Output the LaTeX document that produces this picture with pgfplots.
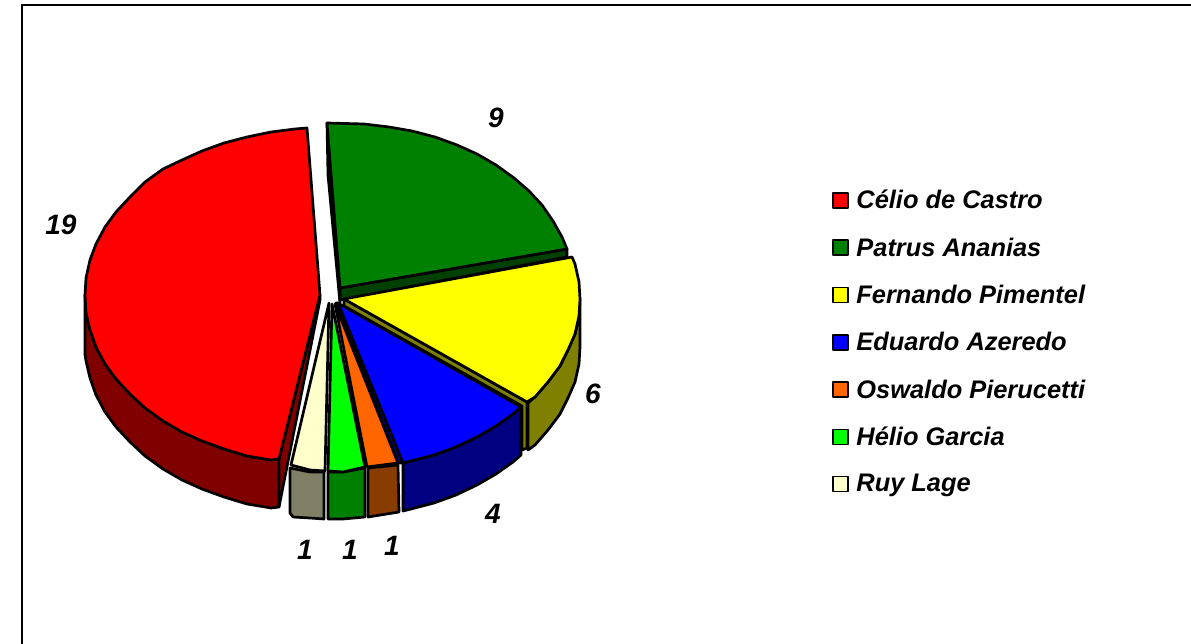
\documentclass[border=0pt]{standalone}
\usepackage{pgfplots}
\pgfplotsset{compat=1.18}
\usepackage{fontspec}
\setmainfont{Liberation Sans}
\definecolor{cRed}{RGB}{255,0,0}\definecolor{cRedD}{RGB}{128,0,0}
\definecolor{cGrn}{RGB}{0,128,0}\definecolor{cGrnD}{RGB}{0,64,0}
\definecolor{cYel}{RGB}{255,255,0}\definecolor{cYelD}{RGB}{128,128,0}
\definecolor{cBlu}{RGB}{0,0,255}\definecolor{cBluD}{RGB}{0,0,128}
\definecolor{cOrg}{RGB}{255,102,0}\definecolor{cOrgD}{RGB}{136,60,0}
\definecolor{cLim}{RGB}{0,255,0}\definecolor{cLimD}{RGB}{0,128,0}
\definecolor{cCrm}{RGB}{255,255,204}\definecolor{cCrmD}{RGB}{128,128,102}
\newcommand{\lab}{\fontsize{28}{30}\selectfont\bfseries\itshape}
\tikzset{pf/.style={draw=black,line width=2.7pt,line join=round}}
\begin{document}
\begin{tikzpicture}[x=1pt,y=1pt]
\useasboundingbox (0,0) rectangle (1191,644);
\begin{axis}[
  at={(0,0)},anchor=south west,scale only axis,width=1191pt,height=644pt,
  xmin=0,xmax=1191,ymin=0,ymax=644,y dir=reverse,axis lines=none,clip=false,
  no markers,
  legend cell align=left,
  legend style={at={(axis cs:832,190)},anchor=north west,draw=none,fill=none,
    font=\fontsize{25.4}{25.4}\selectfont\bfseries\itshape,row sep=27.4pt,inner sep=0pt,
    nodes={inner sep=0pt,anchor=west}},
  legend image code/.code={\draw[#1,line width=1.8pt] (0pt,-7.5pt) rectangle (15pt,7.5pt);\path (22pt,0pt);},
]
% frame
\addplot[draw=black,line width=2pt,forget plot] coordinates {(22,644)(22,5)(1191,5)};
% Celio de Castro
\addplot[pf,fill=cRedD,forget plot] coordinates {(279,459)(271,460)(247,456)(224,449)(202,441)(182,432)(163,421)(145,408)(130,394)(116,379)(105,364)(96,347)(90,330)(86,313)(85,295)(85,355)(86,361)(90,378)(96,395)(105,412)(116,427)(130,442)(145,456)(163,469)(182,480)(202,489)(224,497)(247,504)(271,508)(279,507)} --cycle;
\addplot[pf,fill=cRedD,forget plot] coordinates {(279,459)(279,507)(320,300)(320,295)} --cycle;
\addplot[pf,fill=cRed] coordinates {(320,295)(279,459)(271,460)(247,456)(224,449)(202,441)(182,432)(163,421)(145,408)(130,394)(116,379)(105,364)(96,347)(90,330)(86,313)(85,295)(86,278)(90,260)(96,244)(105,227)(116,212)(130,197)(145,182)(163,169)(182,160)(202,151)(224,143)(247,137)(271,132)(295,129)(307,128)} --cycle;
% Patrus Ananias
\addplot[pf,fill=cGrnD,forget plot] coordinates {(327,123)(340,288)(340,303)(328,175)} --cycle;
\addplot[pf,fill=cGrnD,forget plot] coordinates {(340,288)(567,249)(567,257)(340,300)} --cycle;
\addplot[pf,fill=cGrn] coordinates {(340,288)(327,123)(364,124)(389,127)(412,131)(435,137)(457,145)(477,154)(496,165)(514,178)(529,191)(542,205)(553,221)(562,237)(567,249)} --cycle;
% Fernando Pimentel
\addplot[pf,fill=cYelD,forget plot] coordinates {(580,299)(579,316)(575,334)(568,350)(560,366)(548,382)(535,397)(528,403)(528,450)(535,445)(548,430)(560,414)(568,398)(575,382)(579,364)(580,347)} --cycle;
\addplot[pf,fill=cYelD,forget plot] coordinates {(344,299)(527,402)(527,448)(522,450)(522,406)(344,306)} --cycle;
\addplot[pf,fill=cYel] coordinates {(344,299)(572,257)(575,264)(579,282)(580,299)(579,316)(575,334)(568,350)(560,366)(548,382)(535,397)(527,402)} --cycle;
% Eduardo Azeredo
\addplot[pf,fill=cBluD,forget plot] coordinates {(403,463)(411,461)(434,455)(456,447)(477,437)(496,426)(513,414)(521,407)(521,455)(513,462)(496,474)(477,485)(456,495)(434,503)(411,509)(403,511)} --cycle;
\addplot[pf,fill=cBluD,forget plot] coordinates {(336,303)(338,303)(403,463)(398,463)} --cycle;
\addplot[pf,fill=cBlu] coordinates {(338,303)(521,407)(513,414)(496,426)(477,437)(456,447)(434,455)(411,461)(403,463)} --cycle;
% Oswaldo Pierucetti
\addplot[pf,fill=cOrgD,forget plot] coordinates {(368,468)(398,465)(399,512)(368,517)} --cycle;
\addplot[pf,fill=cOrg] coordinates {(335,304)(367,467)(398,463)} --cycle;
% Helio Garcia
\addplot[pf,fill=cLimD,forget plot] coordinates {(328,472)(343,472)(365,468)(365,517)(343,519)(328,519)} --cycle;
\addplot[pf,fill=cLim] coordinates {(332,304)(328,471)(343,472)(365,467)} --cycle;
% Ruy Lage
\addplot[pf,fill=cCrmD,forget plot] coordinates {(290,468)(310,472)(324,472)(324,519)(310,518)(293,517)(290,513)} --cycle;
\addplot[pf,fill=cCrm] coordinates {(329,303)(325,471)(310,470)(291,465)} --cycle;
\legend{Célio de Castro,Patrus Ananias,Fernando Pimentel,Eduardo Azeredo,Oswaldo Pierucetti,Hélio Garcia,Ruy Lage}
\node[font=\lab] at (axis cs:61,225) {19};
\node[font=\lab] at (axis cs:496,118) {9};
\node[font=\lab] at (axis cs:593,394) {6};
\node[font=\lab] at (axis cs:493,514) {4};
\node[font=\lab] at (axis cs:392,546) {1};
\node[font=\lab] at (axis cs:350,550) {1};
\node[font=\lab] at (axis cs:305,550) {1};
\end{axis}
\end{tikzpicture}
\end{document}
